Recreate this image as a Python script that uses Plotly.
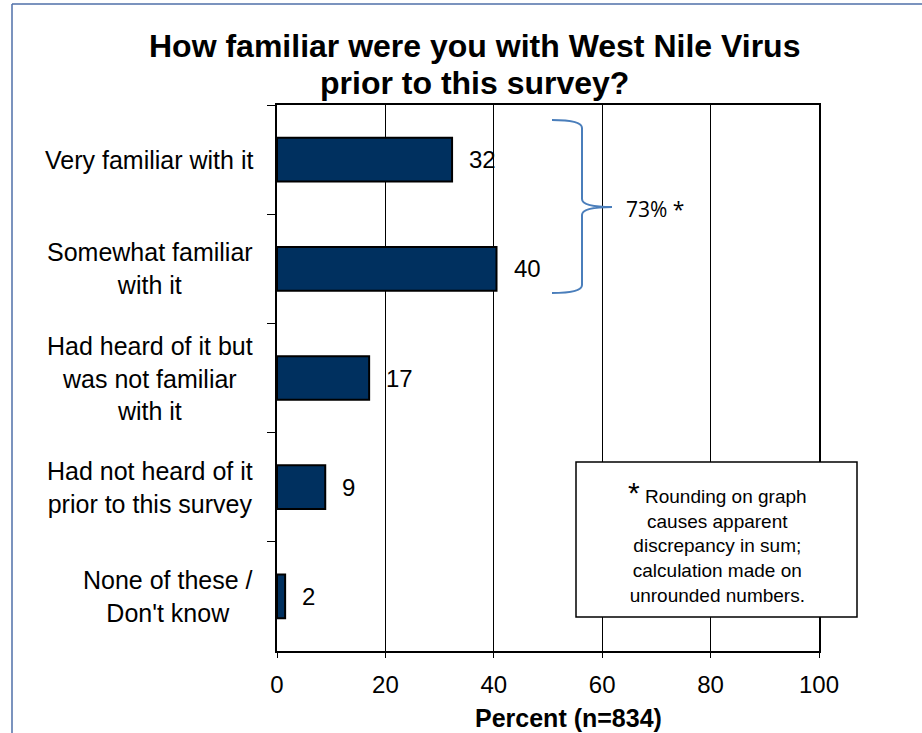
import plotly.graph_objects as go

categories = ["Very familiar with it",
              "Somewhat familiar<br>with it",
              "Had heard of it but<br>was not familiar<br>with it",
              "Had not heard of it<br>prior to this survey",
              "None of these /<br>Don't know"]
values = [32.3, 40.5, 17.0, 8.9, 1.5]
value_labels = ["32", "40", "17", "9", "2"]
x_ticks = [0, 20, 40, 60, 80, 100]
title_lines = ["How familiar were you with West Nile Virus", "prior to this survey?"]
x_title = "Percent (n=834)"
brace_label = "73% *"
note_text = ("<span style='font-size:30px'>*</span> Rounding on graph<br>causes apparent<br>"
             "discrepancy in sum;<br>calculation made on<br>unrounded numbers.")

W, H = 922, 733
L, R, T, B = 277, 819, 105, 651

def px(x):
    return (x - L) / (R - L)

def py(y):
    return (B - y) / (B - T)

FONT = "Liberation Sans, Arial, sans-serif"

fig = go.Figure()
fig.add_trace(go.Bar(
    y=list(range(len(categories))), x=values, orientation="h",
    marker=dict(color="#00305f", line=dict(color="black", width=2)),
    hoverinfo="skip",
))

annotations = []
for i, (v, lab) in enumerate(zip(values, value_labels)):
    annotations.append(dict(x=v, y=i, xref="x", yref="y", text=lab, showarrow=False,
                            xanchor="left", xshift=15, font=dict(size=24, color="black", family=FONT)))
for i, c in enumerate(categories):
    annotations.append(dict(x=0, y=i, xref="paper", yref="y", text=c, showarrow=False,
                            xanchor="right", xshift=-22, align="center",
                            font=dict(size=25, color="black", family=FONT)))

# title (two lines)
for t, yc in zip(title_lines, [46, 83]):
    annotations.append(dict(x=px(474), y=py(yc), xref="paper", yref="paper",
                            text=f"<b>{t}</b>", showarrow=False, xanchor="center", yanchor="middle",
                            font=dict(size=32, color="black", family=FONT)))
# x title
annotations.append(dict(x=px(568), y=py(718), xref="paper", yref="paper",
                        text=f"<b>{x_title}</b>", showarrow=False, xanchor="center", yanchor="middle",
                        font=dict(size=25, color="black", family=FONT)))
# brace label
annotations.append(dict(x=px(624), y=py(209), xref="paper", yref="paper", text=brace_label,
                        showarrow=False, xanchor="left", yanchor="middle",
                        font=dict(size=21, color="black", family="Open Sans, sans-serif")))
# note text
annotations.append(dict(x=px(717), y=py(541), xref="paper", yref="paper", text=note_text,
                        showarrow=False, xanchor="center", yanchor="middle", align="center",
                        font=dict(size=19, color="black", family=FONT)))

shapes = []
# outer frame
shapes.append(dict(type="line", xref="paper", yref="paper", x0=px(12), x1=px(12), y0=py(4), y1=py(740),
                   line=dict(color="#4f6fa8", width=1.5)))
shapes.append(dict(type="line", xref="paper", yref="paper", x0=px(12), x1=px(930), y0=py(4), y1=py(4),
                   line=dict(color="#4f6fa8", width=1.5)))
# note box
shapes.append(dict(type="rect", xref="paper", yref="paper", x0=px(576), x1=px(857), y0=py(617), y1=py(462),
                   line=dict(color="black", width=1.5), fillcolor="white", layer="above"))
# brace
bx0, bx1, tip, ytop, ymid, ybot = 552, 582, 612, 120, 207, 293
path = (f"M {px(bx0)},{py(ytop)} Q {px(bx1)},{py(ytop)} {px(bx1)},{py(ytop+8)} "
        f"L {px(bx1)},{py(ymid-8)} Q {px(bx1)},{py(ymid)} {px(tip)},{py(ymid)} "
        f"Q {px(bx1)},{py(ymid)} {px(bx1)},{py(ymid+8)} "
        f"L {px(bx1)},{py(ybot-8)} Q {px(bx1)},{py(ybot)} {px(bx0)},{py(ybot)}")
shapes.append(dict(type="path", xref="paper", yref="paper", path=path,
                   line=dict(color="#4a7ebb", width=2)))

fig.update_layout(
    width=W, height=H,
    margin=dict(l=L, r=W - R, t=T, b=H - B, pad=0),
    paper_bgcolor="white", plot_bgcolor="white",
    showlegend=False, bargap=0.6,
    annotations=annotations, shapes=shapes,
    font=dict(family=FONT, color="black"),
    xaxis=dict(range=[0, 100], tickvals=x_ticks, ticktext=[str(t) for t in x_ticks],
               showgrid=True, gridcolor="black", gridwidth=1,
               showline=True, linecolor="black", linewidth=2, mirror=True,
               ticks="outside", ticklen=5, tickcolor="black", tickwidth=1,
               ticklabelstandoff=6,
               tickfont=dict(size=24, color="black", family=FONT), zeroline=False, fixedrange=True),
    yaxis=dict(type="category", autorange="reversed",
               showticklabels=False, tickson="boundaries",
               showgrid=False, showline=True, linecolor="black", linewidth=2, mirror=True,
               ticks="outside", ticklen=8, tickcolor="black", tickwidth=1, fixedrange=True),
)

fig.write_html("out.html", config={"displayModeBar": False, "staticPlot": True})
with open("out.html", "r", encoding="utf-8") as f:
    html = f.read()
html = html.replace("<head>", "<head><style>html,body{margin:0;padding:0;overflow:hidden;}</style>", 1)
with open("out.html", "w", encoding="utf-8") as f:
    f.write(html)
